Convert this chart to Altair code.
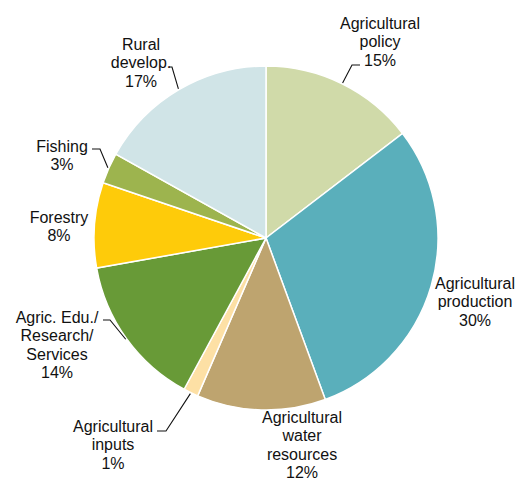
import math
import altair as alt
import pandas as pd

# ---- data ----
categories = [
    "Agricultural policy", "Agricultural production", "Agricultural water resources",
    "Agricultural inputs", "Agric. Edu./Research/Services", "Forestry", "Fishing",
    "Rural develop.",
]
shares = [14.6, 29.8, 12.1, 1.4, 14.3, 8.0, 2.9, 16.9]
pct_labels = ["15%", "30%", "12%", "1%", "14%", "8%", "3%", "17%"]
name_lines = [
    "Agricultural\npolicy", "Agricultural\nproduction", "Agricultural\nwater\nresources",
    "Agricultural\ninputs", "Agric. Edu./\nResearch/\nServices", "Forestry", "Fishing",
    "Rural\ndevelop.",
]

# ---- styles / layout ----
colors = ["#d0daa9", "#5aafbb", "#bea46f", "#fde0a5", "#689a37", "#fecb0a", "#9db44e", "#d0e4e7"]
CX, CY, R = 258, 230, 172
# position of the first line of each label (view pixels)
label_xy = [(372, 16), (467, 276), (294, 410), (105, 419), (49, 310), (51, 210), (54, 139), (133, 37)]
# leader: index -> (elbow, end) in view pixels
leaders = {
    0: [(344, 57), (352, 57)],
    7: [(164, 59), (161, 59)],
    6: [(92, 141), (84, 141)],
    4: [(102, 312), (95, 312)],
    3: [(158, 423), (149, 423)],
}

df = pd.DataFrame({
    "idx": list(range(len(categories))),
    "category": categories,
    "share": shares,
    "label": [f"{n}\n{p}" for n, p in zip(name_lines, pct_labels)],
    "lx": [p[0] for p in label_xy],
    "ly": [p[1] for p in label_xy],
})

# leader lines start at the slice's mid-angle on the rim
total = sum(shares)
rows = []
cum = 0.0
for i, s in enumerate(shares):
    mid = (cum + s / 2) / total * 2 * math.pi
    cum += s
    if i in leaders:
        ex = CX + (R + 1) * math.sin(mid)
        ey = CY - (R + 1) * math.cos(mid)
        pts = [(ex, ey)] + leaders[i]
        for k, (px, py) in enumerate(pts):
            rows.append({"cat": categories[i], "k": k, "px": px, "py": py})
lead_df = pd.DataFrame(rows)

pie = alt.Chart(df).mark_arc(radius=R, stroke="white", strokeWidth=1.5).encode(
    theta=alt.Theta("share:Q", stack=True),
    order=alt.Order("idx:Q"),
    color=alt.Color("category:N", scale=alt.Scale(domain=categories, range=colors), legend=None),
    x=alt.value(CX),
    y=alt.value(CY),
)

text = alt.Chart(df).mark_text(
    font="Liberation Sans", fontSize=16, lineBreak="\n", lineHeight=18.3,
    align="center", baseline="middle", color="#111111",
).encode(
    x=alt.X("lx:Q", scale=None),
    y=alt.Y("ly:Q", scale=None),
    text="label:N",
)

lines = alt.Chart(lead_df).mark_line(color="#111111", strokeWidth=1.1).encode(
    x=alt.X("px:Q", scale=None),
    y=alt.Y("py:Q", scale=None),
    detail="cat:N",
    order="k:Q",
)

chart = alt.layer(pie, lines, text).properties(
    width=508, height=475, autosize=alt.AutoSizeParams(type="none"), padding=0,
).configure_view(stroke=None)

chart.save("out.html", embed_options={"renderer": "svg", "actions": False})
